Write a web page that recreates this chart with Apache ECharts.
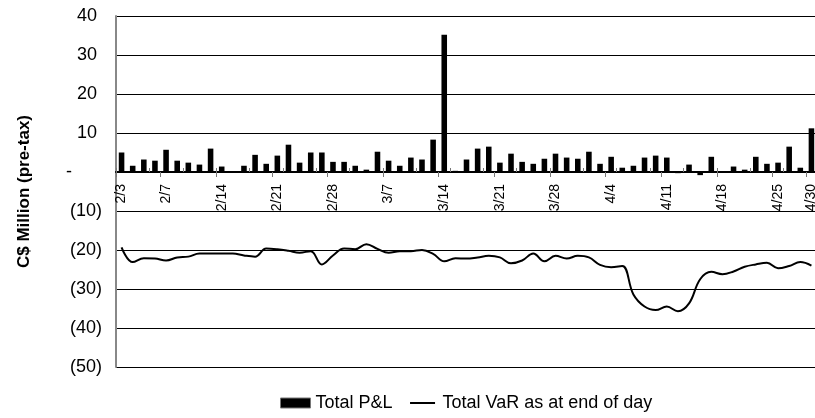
<!DOCTYPE html>
<html>
<head>
<meta charset="utf-8">
<script src="https://cdn.jsdelivr.net/npm/echarts@6/dist/echarts.min.js"></script>
<style>
html,body{margin:0;padding:0;background:#fff;}
#chart{width:815px;height:418px;}
</style>
</head>
<body>
<div id="chart"></div>
<script>
// Business days, Feb 3 - Apr 30
const dates = [
  '2/3','2/4','2/5','2/6','2/7','2/10','2/11','2/12','2/13','2/14',
  '2/17','2/18','2/19','2/20','2/21','2/24','2/25','2/26','2/27','2/28',
  '3/3','3/4','3/5','3/6','3/7','3/10','3/11','3/12','3/13','3/14',
  '3/17','3/18','3/19','3/20','3/21','3/24','3/25','3/26','3/27','3/28',
  '3/31','4/1','4/2','4/3','4/4','4/7','4/8','4/9','4/10','4/11',
  '4/14','4/15','4/16','4/17','4/18','4/21','4/22','4/23','4/24','4/25',
  '4/28','4/29','4/30'
];
const labeledDates = ['2/3','2/7','2/14','2/21','2/28','3/7','3/14','3/21','3/28','4/4','4/11','4/18','4/25','4/30'];

const totalPL = [
  5.0, 1.6, 3.2, 2.9, 5.7, 2.9, 2.4, 1.9, 6.0, 1.4,
  null, 1.6, 4.4, 2.1, 4.2, 7.0, 2.4, 5.0, 5.0, 2.6,
  2.6, 1.6, 0.6, 5.2, 2.9, 1.6, 3.7, 3.2, 8.3, 35.2,
  0.3, 3.2, 6.0, 6.5, 2.4, 4.7, 2.6, 2.1, 3.4, 4.7,
  3.7, 3.4, 5.2, 2.1, 3.9, 1.1, 1.6, 3.7, 4.2, 3.7,
  -0.3, 1.9, -0.8, 3.9, null, 1.4, 0.6, 3.9, 2.1, 2.4,
  6.5, 1.1, 11.2
];

const totalVaR = [
  -19.3, -23.1, -22.1, -22.2, -22.7, -21.9, -21.7, -20.9, -20.9, -20.9,
  -20.9, -21.4, -21.7, -19.6, -19.8, -20.2, -20.7, -20.3, -23.7, -21.4,
  -19.6, -19.8, -18.5, -19.7, -20.7, -20.3, -20.3, -20.0, -21.0, -22.9,
  -22.1, -22.2, -21.9, -21.5, -21.9, -23.4, -22.7, -20.9, -22.9, -21.5,
  -22.2, -21.5, -21.9, -23.8, -24.4, -24.1, -31.4, -34.5, -35.4, -34.5,
  -35.7, -33.7, -27.5, -25.6, -26.2, -25.5, -24.3, -23.7, -23.3, -24.7,
  -24.1, -23.1, -24.0
];

const yTicks = { min: -50, max: 40, interval: 10 };

const FONT = 'Liberation Sans, Arial, sans-serif';
const GRID = { left: 116, top: 16, width: 701, height: 351 };
// distance of the zero line from the grid's bottom / top edge, derived from the axis range
const zeroFromBottom = GRID.height * (0 - yTicks.min) / (yTicks.max - yTicks.min);
const zeroFromTop = GRID.height - zeroFromBottom;

const chart = echarts.init(document.getElementById('chart'), null, { renderer: 'canvas' });

function yFmt(v) {
  if (v > 0) return v + ' ';
  if (v === 0) return '-      ';
  return '(' + Math.abs(v) + ')';
}

const lineIcon = 'path://M0,0 L0.01,0 Z M2.5,4 L27.5,4 L27.5,6 L2.5,6 Z M30,10 L29.99,10 Z';

chart.setOption({
  animation: false,
  backgroundColor: '#fff',
  textStyle: { fontFamily: FONT },
  grid: Object.assign({ outerBoundsMode: 'none', containLabel: false }, GRID),
  legend: {
    top: 389,
    left: 275,
    itemWidth: 30,
    itemHeight: 10,
    itemGap: 15,
    textStyle: { fontFamily: FONT, fontSize: 18, color: '#000' },
    data: [
      { name: 'Total P&L', icon: 'rect', itemStyle: { color: '#000', borderColor: '#777', borderWidth: 1 } },
      { name: 'Total VaR as at end of day', icon: lineIcon, itemStyle: { color: '#000', borderWidth: 0 } }
    ]
  },
  xAxis: [
    {
      type: 'category',
      data: dates,
      position: 'bottom',
      offset: -zeroFromBottom,
      boundaryGap: true,
      axisLine: { onZero: false, lineStyle: { color: '#000', width: 2 } },
      axisTick: { show: true, inside: false, length: 5, lineStyle: { color: '#777', width: 1 } },
      axisLabel: {
        rotate: 90,
        fontSize: 14,
        color: '#000',
        margin: 12,
        fontFamily: FONT,
        interval: function (idx, val) { return labeledDates.indexOf(val) >= 0; }
      },
      splitLine: { show: false }
    },
    {
      type: 'category',
      data: dates,
      position: 'top',
      offset: -zeroFromTop,
      boundaryGap: true,
      axisLine: { show: false, onZero: false },
      axisTick: { show: true, inside: false, length: 4, lineStyle: { color: '#777', width: 1 } },
      axisLabel: { show: false },
      splitLine: { show: false }
    }
  ],
  yAxis: {
    type: 'value',
    min: yTicks.min,
    max: yTicks.max,
    interval: yTicks.interval,
    name: 'C$ Million (pre-tax)',
    nameLocation: 'middle',
    nameGap: 83,
    nameRotate: 90,
    nameTextStyle: { fontFamily: FONT, fontSize: 17, fontWeight: 'bold', color: '#000' },
    axisLine: { show: true, lineStyle: { color: '#888', width: 2 } },
    axisTick: { show: false },
    axisLabel: { formatter: yFmt, fontSize: 18, color: '#000', margin: 14, fontFamily: FONT },
    splitLine: { show: true, lineStyle: { color: '#000', width: 1 } }
  },
  series: [
    {
      name: 'Total P&L',
      type: 'bar',
      xAxisIndex: 0,
      data: totalPL,
      barWidth: '50%',
      itemStyle: { color: '#000' }
    },
    {
      name: 'Total VaR as at end of day',
      type: 'line',
      xAxisIndex: 0,
      data: totalVaR,
      smooth: 0.4,
      symbol: 'none',
      lineStyle: { color: '#000', width: 2 },
      itemStyle: { color: '#000' }
    }
  ]
});
</script>
</body>
</html>
